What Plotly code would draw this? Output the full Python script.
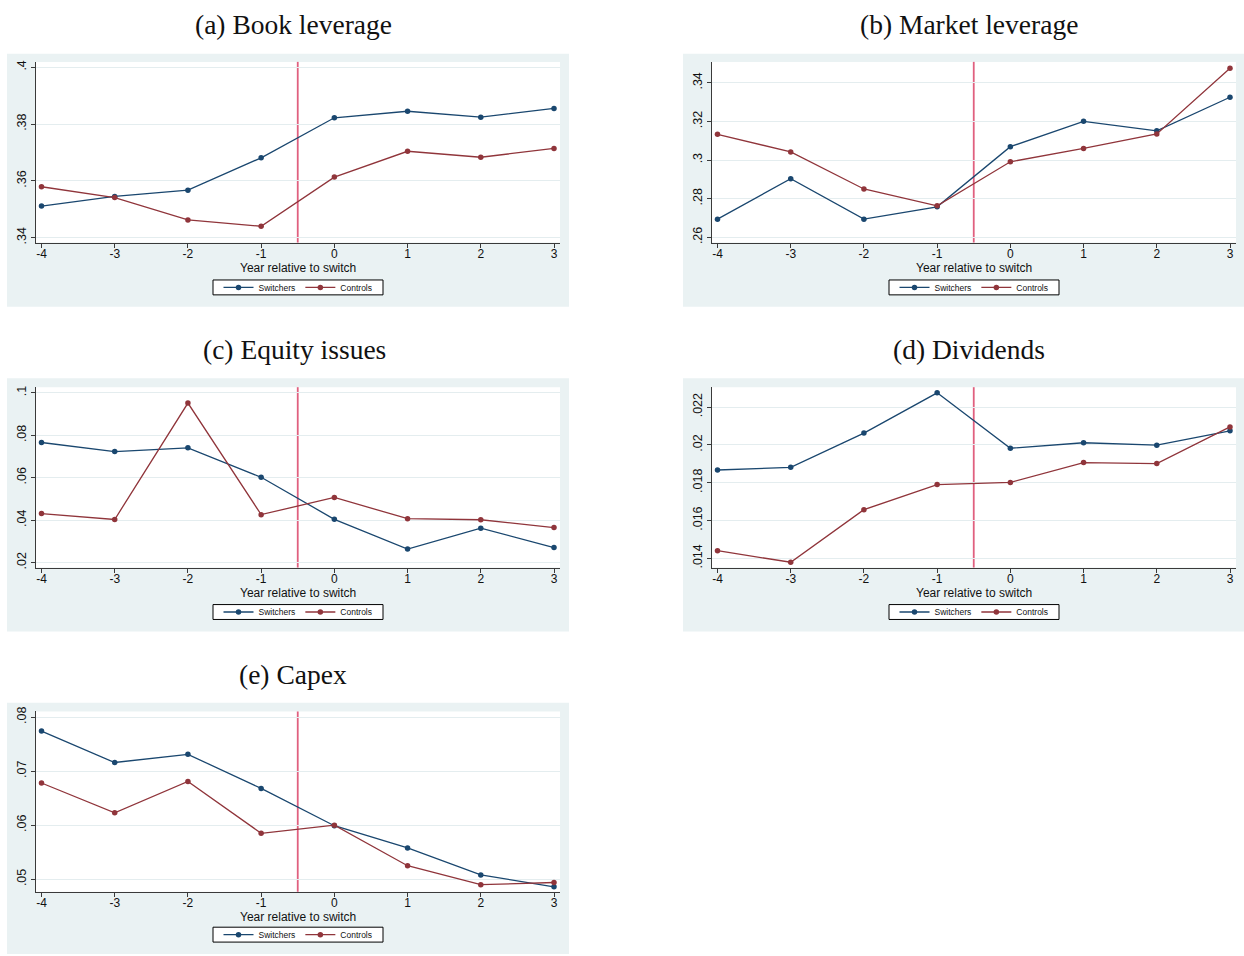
import plotly.graph_objects as go

W, H = 1244, 956

years = [-4, -3, -2, -1, 0, 1, 2, 3]
x_ticks = [-4, -3, -2, -1, 0, 1, 2, 3]
x_ticktext = ["-4", "-3", "-2", "-1", "0", "1", "2", "3"]

titles = ["(a) Book leverage", "(b) Market leverage", "(c) Equity issues", "(d) Dividends", "(e) Capex"]
series_names = ["Switchers", "Controls"]
x_title = "Year relative to switch"
switch_year = -0.5

book_switchers = [0.3511, 0.3545, 0.3567, 0.3681, 0.3822, 0.3845, 0.3824, 0.3855]
book_controls = [0.3579, 0.3541, 0.3462, 0.3440, 0.3613, 0.3704, 0.3683, 0.3714]
book_ticks = [0.34, 0.36, 0.38, 0.40]
book_ticktext = [".34", ".36", ".38", ".4"]

mkt_switchers = [0.2694, 0.2903, 0.2694, 0.2758, 0.3069, 0.3200, 0.3151, 0.3325]
mkt_controls = [0.3133, 0.3042, 0.2850, 0.2763, 0.2991, 0.3060, 0.3135, 0.3475]
mkt_ticks = [0.26, 0.28, 0.30, 0.32, 0.34]
mkt_ticktext = [".26", ".28", ".3", ".32", ".34"]

eq_switchers = [0.0766, 0.0723, 0.0741, 0.0602, 0.0404, 0.0264, 0.0362, 0.0271]
eq_controls = [0.0431, 0.0403, 0.0952, 0.0426, 0.0507, 0.0407, 0.0402, 0.0365]
eq_ticks = [0.02, 0.04, 0.06, 0.08, 0.10]
eq_ticktext = [".02", ".04", ".06", ".08", ".1"]

div_switchers = [0.01867, 0.01881, 0.02062, 0.02275, 0.01982, 0.02011, 0.01998, 0.02074]
div_controls = [0.01440, 0.01379, 0.01657, 0.01790, 0.01801, 0.01906, 0.01901, 0.02095]
div_ticks = [0.014, 0.016, 0.018, 0.020, 0.022]
div_ticktext = [".014", ".016", ".018", ".02", ".022"]

capex_switchers = [0.0774, 0.0716, 0.0731, 0.0668, 0.0599, 0.0558, 0.0508, 0.0486]
capex_controls = [0.0678, 0.0623, 0.0681, 0.0585, 0.0600, 0.0525, 0.0490, 0.0494]
capex_ticks = [0.05, 0.06, 0.07, 0.08]
capex_ticktext = [".05", ".06", ".07", ".08"]

panels = [
    dict(title=titles[0], s=book_switchers, c=book_controls, ticks=book_ticks, tt=book_ticktext,
         yr=[0.33825, 0.40189], box=(7, 49, 569, 304), plot=(36, 57.3, 560, 239.3), tx=293),
    dict(title=titles[1], s=mkt_switchers, c=mkt_controls, ticks=mkt_ticks, tt=mkt_ticktext,
         yr=[0.25728, 0.35079], box=(683, 49, 1244, 304), plot=(712, 57.3, 1236, 239.3), tx=969),
    dict(title=titles[2], s=eq_switchers, c=eq_controls, ticks=eq_ticks, tt=eq_ticktext,
         yr=[0.01766, 0.10267], box=(7, 376, 569, 631), plot=(36, 385, 560, 566.7), tx=294),
    dict(title=titles[3], s=div_switchers, c=div_controls, ticks=div_ticks, tt=div_ticktext,
         yr=[0.01351, 0.02305], box=(683, 376, 1244, 631), plot=(712, 385, 1236, 566.7), tx=969),
    dict(title=titles[4], s=capex_switchers, c=capex_controls, ticks=capex_ticks, tt=capex_ticktext,
         yr=[0.04769, 0.08103], box=(7, 703, 569, 956), plot=(36, 711.7, 560, 893.3), tx=293),
]

NAVY = "#1A476F"
MAROON = "#90353B"
BG = "#EAF2F3"
GRID = "#E4EDEF"
AXIS = "#3A3A3A"
VLINE = "#E0607F"

def px(x):
    return x / W

def py(y):
    return 1 - y / H

fig = go.Figure()
shapes = []
annotations = []
layout = {}

for i, p in enumerate(panels):
    n = i + 1
    xa = "x" if n == 1 else f"x{n}"
    ya = "y" if n == 1 else f"y{n}"
    lg = "legend" if n == 1 else f"legend{n}"
    x0, y0, x1, y1 = p["plot"]
    bx0, by0, bx1, by1 = p["box"]

    for name, vals, col in [(series_names[0], p["s"], NAVY), (series_names[1], p["c"], MAROON)]:
        fig.add_trace(go.Scatter(
            x=years, y=vals, mode="lines+markers", name=name,
            line=dict(color=col, width=1.3),
            marker=dict(color=col, size=5.5),
            xaxis=xa, yaxis=ya, legend=lg, showlegend=True,
        ))

    layout["xaxis" if n == 1 else f"xaxis{n}"] = dict(
        domain=[px(x0), px(x1)], anchor=ya, range=[-4.075, 3.082],
        tickvals=x_ticks, ticktext=x_ticktext, ticks="outside", ticklen=4,
        tickcolor=AXIS, tickwidth=1, showline=True, linecolor=AXIS, linewidth=1.3,
        showgrid=False, zeroline=False, ticklabelstandoff=-4,
        tickfont=dict(family="Liberation Sans", size=12, color="#111111"),
    )
    layout["yaxis" if n == 1 else f"yaxis{n}"] = dict(
        domain=[py(y1), py(y0)], anchor=xa, range=p["yr"],
        tickvals=p["ticks"], ticktext=p["tt"], ticks="outside", ticklen=4,
        tickcolor=AXIS, tickwidth=1, showline=True, linecolor=AXIS, linewidth=1.3,
        showgrid=True, gridcolor=GRID, gridwidth=1.2, zeroline=False, tickangle=-90,
        tickfont=dict(family="Liberation Sans", size=12.5, color="#111111"),
    )
    # legend frame (drawn as a shape) and the legend itself centred inside it
    lx0, lx1 = (x0 + x1) / 2 - 85, (x0 + x1) / 2 + 85
    ly0, ly1 = by1 - 27, by1 - 12
    layout[lg] = dict(
        x=px((lx0 + lx1) / 2), y=py((ly0 + ly1) / 2), xanchor="center", yanchor="middle",
        orientation="h", bgcolor="rgba(0,0,0,0)", borderwidth=0,
        font=dict(family="Liberation Sans", size=8.5, color="#111111"),
        itemwidth=30, tracegroupgap=0,
    )

    shapes.append(dict(type="rect", xref="paper", yref="paper",
                       x0=px(bx0), x1=px(bx1), y0=py(by1), y1=py(by0),
                       fillcolor=BG, line=dict(width=0), layer="below"))
    shapes.append(dict(type="rect", xref="paper", yref="paper",
                       x0=px(x0), x1=px(x1), y0=py(y1), y1=py(y0),
                       fillcolor="white", line=dict(width=0), layer="below"))
    shapes.append(dict(type="rect", xref="paper", yref="paper",
                       x0=px(lx0), x1=px(lx1), y0=py(ly1), y1=py(ly0),
                       fillcolor="white", line=dict(width=1, color="black"), layer="below"))
    shapes.append(dict(type="line", xref=xa, yref=f"{ya} domain",
                       x0=switch_year, x1=switch_year, y0=0, y1=1,
                       line=dict(color=VLINE, width=1.8), layer="below"))

    annotations.append(dict(text=p["title"], xref="paper", yref="paper",
                            x=px(p["tx"]), y=py(by0 - 29), xanchor="center", yanchor="middle",
                            showarrow=False,
                            font=dict(family="Liberation Serif", size=27.5, color="#111111")))
    annotations.append(dict(text=x_title, xref="paper", yref="paper",
                            x=px((x0 + x1) / 2), y=py(y1 + 25.5), xanchor="center", yanchor="middle",
                            showarrow=False,
                            font=dict(family="Liberation Sans", size=12, color="#111111")))

fig.update_layout(
    width=W, height=H, margin=dict(l=0, r=0, t=0, b=0),
    paper_bgcolor="white", plot_bgcolor="rgba(0,0,0,0)",
    shapes=shapes, annotations=annotations, **layout,
)

fig.write_html(
    "out.html",
    config={"displayModeBar": False},
    post_script="document.body.style.margin='0';document.documentElement.style.overflow='hidden';",
)
